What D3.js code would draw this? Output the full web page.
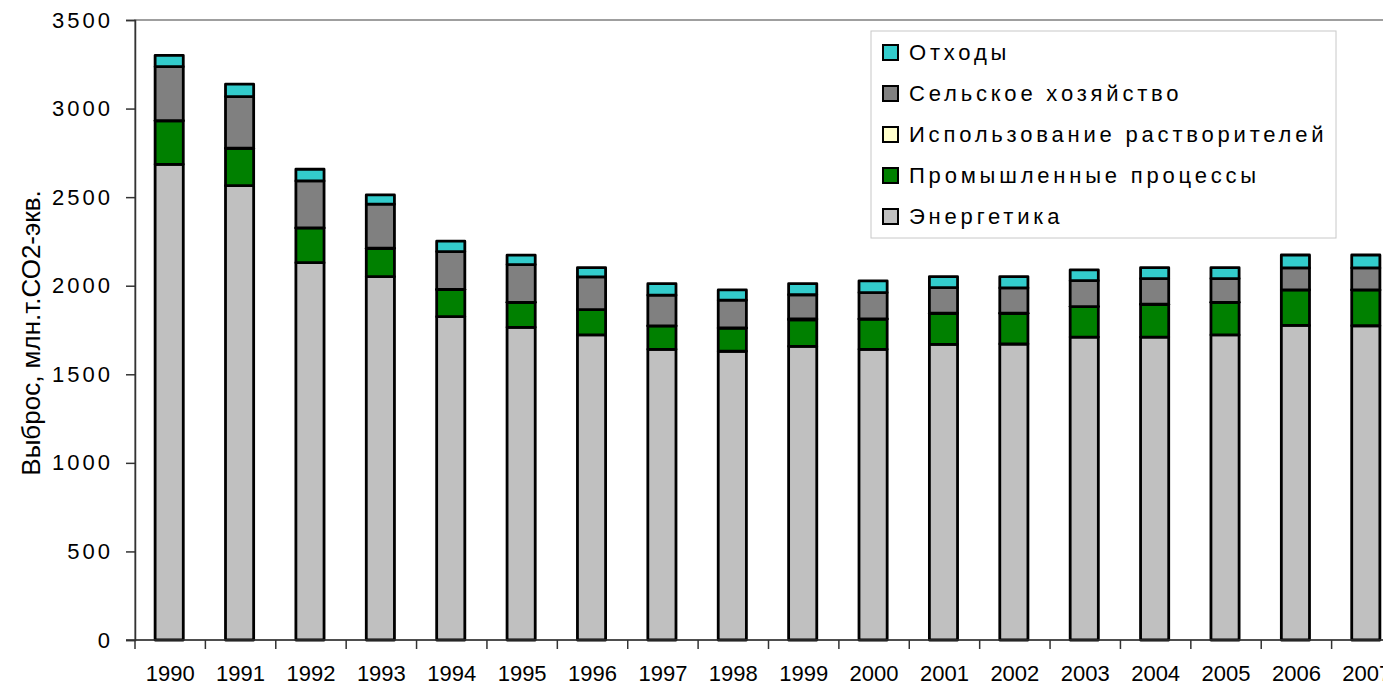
<!DOCTYPE html>
<meta charset="utf-8">
<style>
    body { margin: 0; background: #fff; overflow: hidden; }
    text { font-family: "Liberation Sans", Arial, sans-serif; fill: #000; }
    .seg { stroke: #000; stroke-width: 2.8px; stroke-linejoin: round; }
</style>
<title>Выброс парниковых газов</title>
<body>
<script src="https://d3js.org/d3.v7.min.js"></script>
<script>
    // data, Mt CO2-eq
    const years = ['1990','1991','1992','1993','1994','1995','1996','1997','1998','1999',
                   '2000','2001','2002','2003','2004','2005','2006','2007'];
    const energy     = [2685,2565,2130,2051,1825,1765,1722,1641,1630,1658,1641,1669,1671,1710,1710,1722,1776,1774];
    const industry   = [ 246, 211, 196, 160, 153, 141, 143, 132, 131, 150, 171, 175, 173, 172, 185, 184, 200, 202];
    const solvents   = [ 0.5, 0.5, 0.5, 0.5, 0.5, 0.5, 0.5, 0.5, 0.5,   5, 0.5, 0.5, 0.5, 0.5, 0.5, 0.5, 0.5, 0.5];
    const agriculture= [ 305, 291, 265, 249, 214, 213, 184, 173, 157, 136, 149, 145, 143, 146, 145, 134, 124, 124];
    const waste      = [  64,  70,  66,  52,  59,  53,  53,  65,  58,  63,  66,  62,  64,  61,  62,  62,  73,  73];

    const seriesNames = ['Энергетика','Промышленные процессы','Использование растворителей','Сельское хозяйство','Отходы'];
    const seriesValues = [energy, industry, solvents, agriculture, waste];
    const colors = ['#c0c0c0','#008000','#ffffcc','#808080','#33cccc'];
    const yTicks = [0,500,1000,1500,2000,2500,3000,3500];

    const width = 1383, height = 686;
    const mLeft = 135, mTop = 20, plotH = 620, plotW = 1267;

    let rows = years.map((yr, i) => {
        let r = {year: yr};
        seriesNames.forEach((s, k) => r[s] = seriesValues[k][i]);
        return r;
    });
    let stacked = d3.stack().keys(seriesNames)(rows);

    let svg = d3.select('body').append('svg')
        .attr('width', width)
        .attr('height', height);

    let x = d3.scaleBand().domain(years)
        .range([mLeft, mLeft + plotW])
        .paddingInner(0.6).paddingOuter(0.3);
    let y = d3.scaleLinear().domain([0, 3500]).range([mTop + plotH, mTop]);

    // plot frame
    svg.append('rect')
        .attr('x', mLeft).attr('y', mTop)
        .attr('width', plotW).attr('height', plotH)
        .attr('fill', 'none').attr('stroke', '#808080').attr('stroke-width', 1.5);

    // bars
    svg.append('g').selectAll('g')
        .data(stacked)
        .enter().append('g')
        .attr('fill', (d, i) => colors[i])
        .selectAll('rect')
        .data(d => d)
        .enter().append('rect')
        .attr('class', 'seg')
        .attr('x', d => x(d.data.year) - 1)
        .attr('y', d => y(d[1]))
        .attr('width', x.bandwidth())
        .attr('height', d => y(d[0]) - y(d[1]));

    // y axis
    let yAxis = svg.append('g')
        .attr('transform', `translate(${mLeft},0)`)
        .call(d3.axisLeft(y).tickValues(yTicks).tickFormat(d3.format('d')).tickSize(9).tickPadding(13));
    yAxis.select('.domain').attr('stroke', '#333').attr('stroke-width', 1.5);
    yAxis.selectAll('.tick line').attr('stroke', '#333').attr('stroke-width', 1.5);
    yAxis.selectAll('.tick text')
        .attr('font-size', 22).attr('letter-spacing', 3)
        .style('font-family', '"Liberation Sans", Arial, sans-serif');

    // x axis: line, ticks between categories, labels under bars
    let xg = svg.append('g');
    xg.append('line')
        .attr('x1', mLeft - 9).attr('x2', mLeft + plotW)
        .attr('y1', y(0)).attr('y2', y(0))
        .attr('stroke', '#333').attr('stroke-width', 1.5);
    xg.selectAll('line.tk')
        .data(years)
        .enter().append('line')
        .attr('class', 'tk')
        .attr('x1', d => x(d) - x.step() * 0.3).attr('x2', d => x(d) - x.step() * 0.3)
        .attr('y1', y(0)).attr('y2', y(0) + 9)
        .attr('stroke', '#333').attr('stroke-width', 1.5);
    xg.selectAll('text')
        .data(years)
        .enter().append('text')
        .attr('x', d => x(d) + x.bandwidth() / 2)
        .attr('y', 681)
        .attr('text-anchor', 'middle')
        .attr('font-size', 22)
        .text(d => d);

    // y axis title
    svg.append('text')
        .attr('transform', `translate(40,${mTop + plotH / 2 + 3}) rotate(-90)`)
        .attr('text-anchor', 'middle')
        .attr('font-size', 26)
        .text('Выброс, млн.т.СО2-экв.');

    // legend
    let lg = svg.append('g').attr('transform', 'translate(871,31)');
    lg.append('rect')
        .attr('width', 465).attr('height', 207)
        .attr('fill', '#fff').attr('stroke', '#c8c8c8').attr('stroke-width', 1);
    let legendItems = seriesNames.map((s, i) => ({name: s, color: colors[i]})).reverse();
    let li = lg.selectAll('g.item')
        .data(legendItems)
        .enter().append('g')
        .attr('class', 'item')
        .attr('transform', (d, i) => `translate(12,${21 + i * 41})`);
    li.append('rect')
        .attr('x', 0).attr('y', -7)
        .attr('width', 15).attr('height', 15)
        .attr('fill', d => d.color)
        .attr('stroke', '#000').attr('stroke-width', 2);
    li.append('text')
        .attr('x', 26).attr('y', 8)
        .attr('font-size', 22).attr('letter-spacing', 3.8)
        .text(d => d.name);
</script>
</body>
